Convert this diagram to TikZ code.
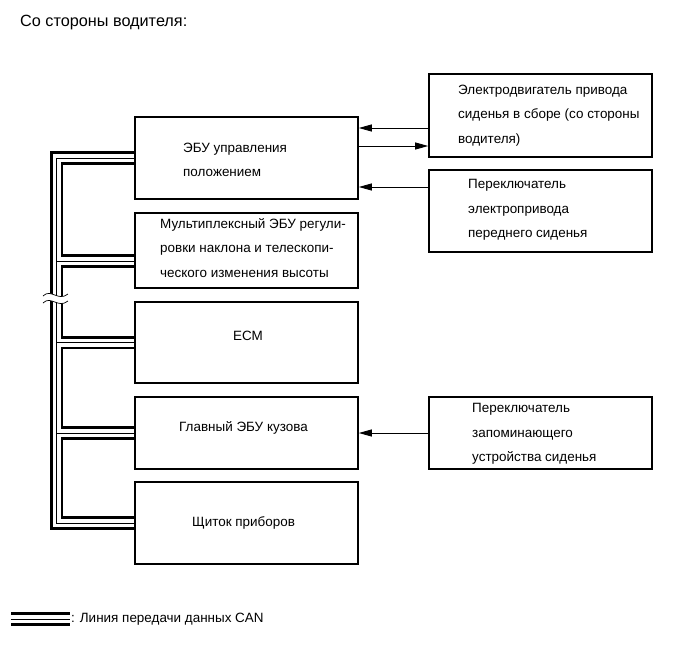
\documentclass[tikz,border=0pt]{standalone}
\usepackage{fontspec}
\setmainfont{Liberation Sans}
\usetikzlibrary{positioning}
\usetikzlibrary{arrows.meta}
\tikzset{>={Triangle[length=13bp,width=7bp]}}
\tikzset{unit/.style={draw,line width=1.6bp,minimum width=223bp,inner sep=0pt}}
\tikzset{lbl/.style={anchor=west,align=left,inner sep=0pt,font=\fontsize{13.5}{24.5}\selectfont}}
\tikzset{sig/.style={->,line width=0.9bp}}
\tikzset{can/.style={preaction={draw,line width=13.5bp},draw=white,line width=8bp,
  postaction={draw=black,line width=0.8bp}}}

\begin{document}
\begin{tikzpicture}[x=1bp,y=-1bp]
\useasboundingbox (0,0) rectangle (691,660);

\node[lbl,font=\fontsize{16.3}{20}\selectfont] (title) at (20,23) {Со стороны водителя:};

% units on the CAN line
\node[unit,minimum height=82bp] (pos) at (246.5,158) {};
\node[unit,minimum height=75bp] (tilt) at (246.5,250.5) {};
\node[unit,minimum height=81bp] (ecm) at (246.5,342.5) {};
\node[unit,minimum height=72bp] (body) at (246.5,433) {};
\node[unit,minimum height=82bp] (panel) at (246.5,523) {};

\node[lbl] (pos-t) at (183,160) {ЭБУ управления\\положением};
\node[lbl] (tilt-t) at (160,248) {Мультиплексный ЭБУ регули-\\ровки наклона и телескопи-\\ческого изменения высоты};
\node[lbl,anchor=center] (ecm-t) at (248,336) {ECM};
\node[lbl] (body-t) at (179,428) {Главный ЭБУ кузова};
\node[lbl] (panel-t) at (192,523) {Щиток приборов};

% units on the right
\node[unit,minimum height=83bp] (motor) at (540.5,115.5) {};
\node[unit,minimum height=82bp] (switch) at (540.5,211) {};
\node[unit,minimum height=72bp] (memory) at (540.5,433) {};

\node[lbl] (motor-t) at (458,115.5) {Электродвигатель привода\\сиденья в сборе (со стороны\\водителя)};
\node[lbl] (switch-t) at (468,210) {Переключатель\\электропривода\\переднего сиденья};
\node[lbl] (memory-t) at (472,434) {Переключатель\\запоминающего\\устройства сиденья};

\draw[sig] (motor.west |- 0,128) -- (pos.east |- 0,128);
\draw[sig] (pos.east |- 0,146) -- (motor.west |- 0,146);
\draw[sig] (switch.west |- 0,187) -- (pos.east |- 0,187);
\draw[sig] (memory.west) -- (memory.west -| body.east);

% CAN bus
\coordinate (bus-top) at (56.5,158);
\coordinate (bus-bot) at (56.5,523);
\draw[can] (pos.west) -- (bus-top) -- (bus-bot) -- (panel.west)
  (bus-top |- 0,261) -- (tilt.west |- 0,261)
  (bus-top |- ecm.west) -- (ecm.west)
  (bus-top |- body.west) -- (body.west);

% break mark
\fill[white] (43,296) .. controls (51,288) and (58,302) .. (68,294)
  -- (68,301) .. controls (58,309) and (51,295) .. (43,303) -- cycle;
\draw[line width=0.7bp] (43,296) .. controls (51,288) and (58,302) .. (68,294);
\draw[line width=0.7bp] (43,303) .. controls (51,295) and (58,309) .. (68,301);

% legend
\coordinate (leg-a) at (11,619);
\coordinate (leg-b) at (70,619);
\draw[can] (leg-a) -- (leg-b);
\node[lbl] (leg-t) at (71,619) {: Линия передачи данных CAN};

\end{tikzpicture}
\end{document}
